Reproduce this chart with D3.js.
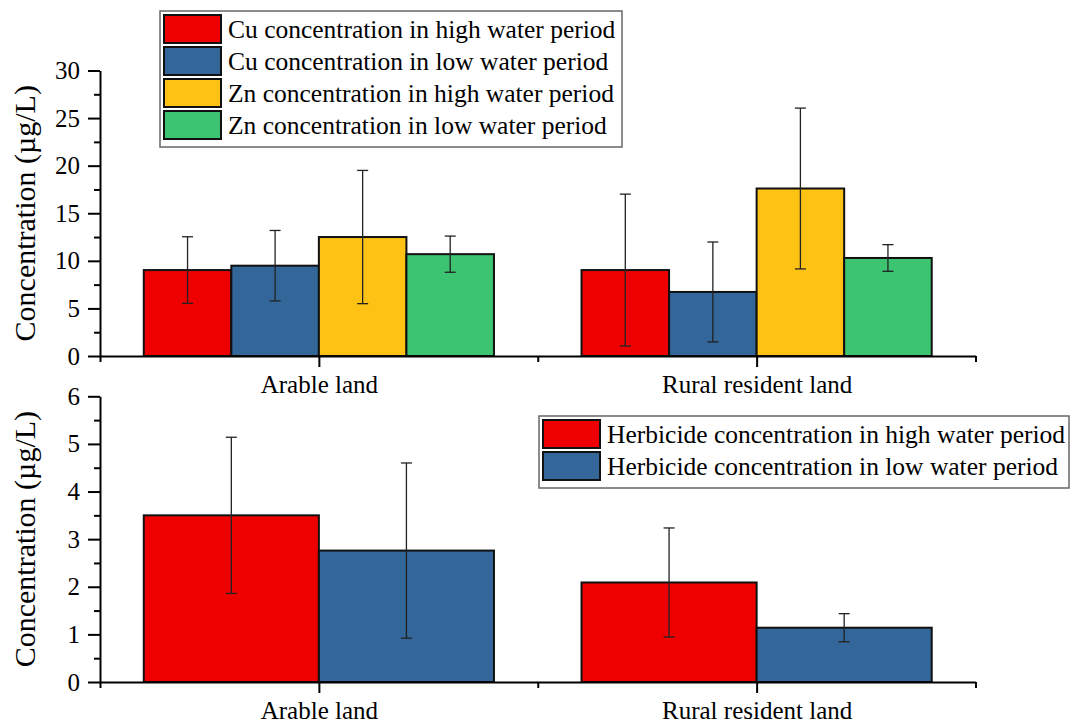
<!DOCTYPE html>
<html>
<head>
<meta charset="utf-8">
<script src="https://cdn.jsdelivr.net/npm/d3@7"></script>
</head>
<body style="margin:0;background:#fff">
<div id="chart"></div>
<script>
const categories = ["Arable land", "Rural resident land"];

const metalNames = [
  "Cu concentration in high water period",
  "Cu concentration in low water period",
  "Zn concentration in high water period",
  "Zn concentration in low water period"
];
const cuHigh = [9.03, 9.03];
const cuHighErr = [3.5, 7.98];
const cuLow = [9.49, 6.73];
const cuLowErr = [3.7, 5.25];
const znHigh = [12.5, 17.6];
const znHighErr = [7.0, 8.45];
const znLow = [10.7, 10.3];
const znLowErr = [1.9, 1.4];

const herbNames = [
  "Herbicide concentration in high water period",
  "Herbicide concentration in low water period"
];
const herbHigh = [3.5, 2.09];
const herbHighErr = [1.64, 1.145];
const herbLow = [2.76, 1.14];
const herbLowErr = [1.84, 0.295];

const metalTicks = [0, 5, 10, 15, 20, 25, 30];
const herbTicks = [0, 1, 2, 3, 4, 5, 6];

const colors = ["#ee0000", "#336699", "#fec215", "#3cc472"];

const width = 1075;
const height = 724;

const svg = d3.select("#chart").append("svg")
  .attr("width", width)
  .attr("height", height)
  .attr("font-family", "Liberation Serif");

const x = d3.scaleLinear().domain([0.5, 2.5]).range([100, 975.5]);

function label(sel, size) {
  sel.attr("font-size", size)
    .attr("font-family", "Liberation Serif")
    .style("font-family", "'Liberation Serif'")
    .attr("fill", "#000");
}

function panel(opts) {
  const y = d3.scaleLinear().domain(opts.domain).range(opts.range);
  const g = svg.append("g");
  const n = opts.series.length;
  const bw = 0.8 / n;

  opts.series.forEach((s, si) => {
    const rows = s.values.map((v, i) => ({ c: i + 1, v: v, e: s.errs[i] }));
    const sg = g.append("g");
    sg.selectAll("rect")
      .data(rows)
      .join("rect")
      .attr("x", d => x(d.c - 0.4 + si * bw))
      .attr("y", d => y(d.v))
      .attr("width", d => x(d.c - 0.4 + (si + 1) * bw) - x(d.c - 0.4 + si * bw))
      .attr("height", d => y(0) - y(d.v))
      .attr("fill", colors[si])
      .attr("stroke", "#111")
      .attr("stroke-width", 2);

    const eg = sg.selectAll("g.err")
      .data(rows)
      .join("g")
      .attr("class", "err")
      .attr("stroke", "#222")
      .attr("stroke-width", 1.3);
    const cx = d => x(d.c - 0.4 + (si + 0.5) * bw);
    eg.append("line")
      .attr("x1", cx).attr("x2", cx)
      .attr("y1", d => y(d.v + d.e)).attr("y2", d => y(d.v - d.e));
    eg.append("line")
      .attr("x1", d => cx(d) - 5.5).attr("x2", d => cx(d) + 5.5)
      .attr("y1", d => y(d.v + d.e)).attr("y2", d => y(d.v + d.e));
    eg.append("line")
      .attr("x1", d => cx(d) - 5.5).attr("x2", d => cx(d) + 5.5)
      .attr("y1", d => y(d.v - d.e)).attr("y2", d => y(d.v - d.e));
  });

  // y axis
  const step = opts.ticks[1] - opts.ticks[0];
  const minor = opts.ticks.slice(0, -1).map(t => t + step / 2);
  g.append("g")
    .attr("transform", "translate(100,0)")
    .call(d3.axisLeft(y).tickValues(minor).tickSize(6).tickFormat(""))
    .call(a => a.select(".domain").remove());
  g.append("g")
    .attr("transform", "translate(100,0)")
    .call(d3.axisLeft(y).tickValues(opts.ticks).tickSize(12).tickSizeOuter(0).tickPadding(8)
      .tickFormat(d3.format("d")))
    .call(a => label(a.selectAll("text"), 25));

  // x axis
  const y0 = y(0);
  g.append("g")
    .attr("transform", `translate(0,${y0})`)
    .call(d3.axisBottom(x).tickValues([0.5, 1.5, 2.5]).tickSize(6).tickFormat(""))
    .call(a => a.select(".domain").remove());
  g.append("g")
    .attr("transform", `translate(0,${y0})`)
    .call(d3.axisBottom(x).tickValues([1, 2]).tickSize(11).tickSizeOuter(0).tickPadding(8)
      .tickFormat(d => categories[d - 1]))
    .call(a => label(a.selectAll("text"), 25));

  g.selectAll(".domain, .tick line").attr("stroke", "#000").attr("stroke-width", 2);
  g.selectAll("g").attr("font-family", null).attr("font-size", null);

  // axis title
  const midY = (opts.range[0] + opts.range[1]) / 2;
  g.append("text")
    .attr("transform", `translate(35,${midY}) rotate(-90)`)
    .attr("text-anchor", "middle")
    .call(label, 30)
    .text("Concentration (\u00b5g/L)");

  // legend
  const L = opts.legend;
  const lg = g.append("g");
  lg.append("rect")
    .attr("x", L.x).attr("y", L.y)
    .attr("width", L.w).attr("height", 8 + 32 * n)
    .attr("fill", "#fff")
    .attr("stroke", "#666")
    .attr("stroke-width", 1.5);
  const items = lg.selectAll("g.item")
    .data(opts.series)
    .join("g")
    .attr("transform", (d, i) => `translate(${L.x + 4},${L.y + 4 + i * 32})`);
  items.append("rect")
    .attr("width", 57).attr("height", 28)
    .attr("fill", (d, i) => colors[i])
    .attr("stroke", "#111")
    .attr("stroke-width", 2);
  items.append("text")
    .attr("x", 64).attr("y", 14)
    .attr("dy", "0.35em")
    .call(label, 25.5)
    .text(d => d.name);
}

panel({
  domain: [0, 30],
  range: [356, 70.5],
  ticks: metalTicks,
  series: [
    { name: metalNames[0], values: cuHigh, errs: cuHighErr },
    { name: metalNames[1], values: cuLow, errs: cuLowErr },
    { name: metalNames[2], values: znHigh, errs: znHighErr },
    { name: metalNames[3], values: znLow, errs: znLowErr }
  ],
  legend: { x: 160, y: 11, w: 462 }
});

panel({
  domain: [0, 6],
  range: [682, 396.3],
  ticks: herbTicks,
  series: [
    { name: herbNames[0], values: herbHigh, errs: herbHighErr },
    { name: herbNames[1], values: herbLow, errs: herbLowErr }
  ],
  legend: { x: 539, y: 416, w: 530 }
});
</script>
</body>
</html>
